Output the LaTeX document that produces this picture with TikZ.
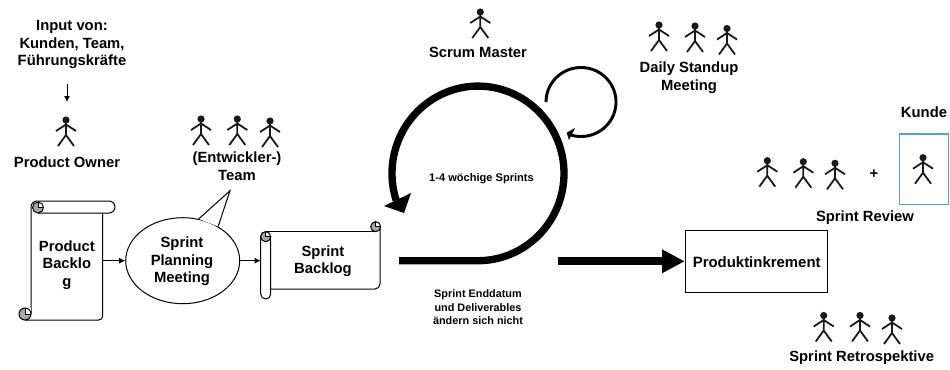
\documentclass[tikz,border=0pt]{standalone}
\usepackage{fontspec}
\setmainfont{Liberation Sans}
\usetikzlibrary{arrows.meta,shapes.geometric,calc}
\definecolor{curlgrey}{HTML}{A8A8A8}
\definecolor{kundeblue}{HTML}{5B9BD5}
\tikzset{
  lbl/.style={font=\fontsize{11.1pt}{13.1pt}\selectfont\bfseries,align=center,inner sep=0pt},
  smalllbl/.style={font=\fontsize{8.3pt}{10.1pt}\selectfont\bfseries,align=center,inner sep=0pt},
  outline/.style={draw=black,line width=0.75pt},
  conn/.style={draw=black,line width=0.75pt,-{Latex[length=4.5pt,width=4.5pt]}},
  stickman/.pic={
    \fill[black!90] (0,0) circle (3.6);
    \draw[black!90,line width=1.35pt] (0,0) -- (0,15) (-10,11) -- (0,4.5) -- (10,11) (-8,26) -- (0,15) -- (8,26);
  }
}
\newcommand{\curl}[3]{% x, y, radius
  \fill[curlgrey] (#1,#2) circle (#3);
  \fill[white] (#1,#2) -- (#1+#3,#2) -- (#1+#3,#2-#3) -- (#1,#2-#3) -- cycle;
  \draw[outline] (#1,#2) circle (#3);
  \draw[black,line width=0.5pt] (#1,#2-#3) -- (#1,#2) -- (#1+#3,#2);
}
\begin{document}
\begin{tikzpicture}[x=0.75pt,y=-0.75pt]
\useasboundingbox (0,0) rectangle (950,369);
% top-left labels
\node[lbl] (input) at (72,44.5) {Input von:\\Kunden, Team,\\Führungskräfte};
\coordinate (inA) at (67,84);
\coordinate (inB) at (67,102);
\draw[conn] (inA) -- (inB);
\pic at (66,120) {stickman};
\node[lbl] (po) at (67,162) {Product Owner};
\pic at (201,119) {stickman};
\pic at (237.3,119) {stickman};
\pic at (270,121) {stickman};
\node[lbl] (team) at (237,166) {(Entwickler-)\\Team};
% Product backlog scroll
\draw[outline,rounded corners=4.5pt] (31,314) -- (31,201) -- (115,201) -- (115,213) -- (38,213);
\draw[outline,rounded corners=3pt] (102.7,213) -- (102.7,320) -- (25,320);
\curl{38}{207.5}{5.5}
\curl{25}{314}{6}
\node[lbl,minimum width=53.7pt,minimum height=80pt] (pb) at (66.85,265) {Product\\Backlo\\g};
% Sprint Planning
\node[outline,ellipse,fill=white,minimum width=85.5pt,minimum height=64.5pt,inner sep=0pt] (sp) at (182.7,260.7) {};
\coordinate (tailtip) at (230,190.7);
\fill[white] (sp.69.5) -- (tailtip) -- (sp.44.5) -- cycle;
\draw[outline,line join=miter] (sp.69.5) -- (tailtip) -- (sp.44.5);
\node[lbl] (sptext) at (182,261.3) {Sprint\\Planning\\Meeting};
% Sprint backlog scroll
\draw[outline,rounded corners=3.75pt] (375,221.7) -- (380,221.7) -- (380,289) -- (270.7,289);
\draw[outline] (265,231.7) -- (375,231.7);
\draw[outline,rounded corners=3.75pt] (260.7,231.7) rectangle (270.7,299);
\curl{375.7}{226.7}{5}
\curl{265.7}{236.7}{5}
\coordinate (sbl) at (260.7,260.7);
\node[lbl,minimum width=82pt,minimum height=43pt] (sb) at (323,261) {Sprint\\Backlog};
\draw[conn] (pb.east |- sp.west) -- (sp.west);
\draw[conn] (sp.east) -- (sbl);
% Big sprint loop
\coordinate (loopstart) at (399,260.7);
\draw[line width=5.5pt,black] (loopstart) -- (478,260.7)
  plot[domain=90:-198,samples=120,smooth] ({478+86*cos(\x)},{173.4+87.3*sin(\x)});
\fill[black] (404,213) -- (384,206) -- (411,193) -- cycle;
\node[smalllbl] (wk) at (481.5,179) {1-4 wöchige Sprints};
% Small loop
\draw[line width=2.2pt,black] plot[domain=180:468,samples=80,smooth] ({581+35*cos(\x)},{102+34.5*sin(\x)});
\fill[black] (566.7,132.7) -- (575,128) -- (572,134) -- (569,140) -- cycle;
% Scrum master
\pic at (480.3,12) {stickman};
\node[lbl] (sm) at (478,52) {Scrum Master};
\pic at (659,25) {stickman};
\pic at (695,26) {stickman};
\pic at (727,28.5) {stickman};
\node[lbl] (daily) at (689,77.5) {Daily Standup\\Meeting};
% Sprint end
\node[smalllbl,font=\fontsize{8.15pt}{10.1pt}\selectfont\bfseries] (end) at (478,307.5) {Sprint Enddatum\\und Deliverables\\ändern sich nicht};
% Produktinkrement
\node[outline,minimum width=107pt,minimum height=46.5pt,inner sep=0pt] (pi) at (756.65,261.3) {};
\node[lbl,font=\fontsize{11.2pt}{13.1pt}\selectfont\bfseries] (pitext) at (756.7,262) {Produktinkrement};
\coordinate (bigstart) at (558.3,261.3);
\draw[line width=6pt,black,-{Triangle[length=17pt,width=16.5pt]}] (bigstart) -- (pi.west |- bigstart);
% Review
\node[lbl] (kunde) at (924,112) {Kunde};
\pic at (767.3,160.7) {stickman};
\pic at (803.3,161.7) {stickman};
\pic at (835,163.3) {stickman};
\node[lbl] (plus) at (874,174) {+};
\node[draw=kundeblue,line width=0.9pt,minimum width=37pt,minimum height=53pt,inner sep=0pt] (kbox) at (924,169.3) {};
\pic at (923,157.7) {stickman};
\node[lbl] (review) at (865,218) {Sprint Review};
% Retro
\pic at (823.7,315.5) {stickman};
\pic at (860,315.5) {stickman};
\pic at (892,318) {stickman};
\node[lbl] (retro) at (861.7,358) {Sprint Retrospektive};
\end{tikzpicture}
\end{document}
